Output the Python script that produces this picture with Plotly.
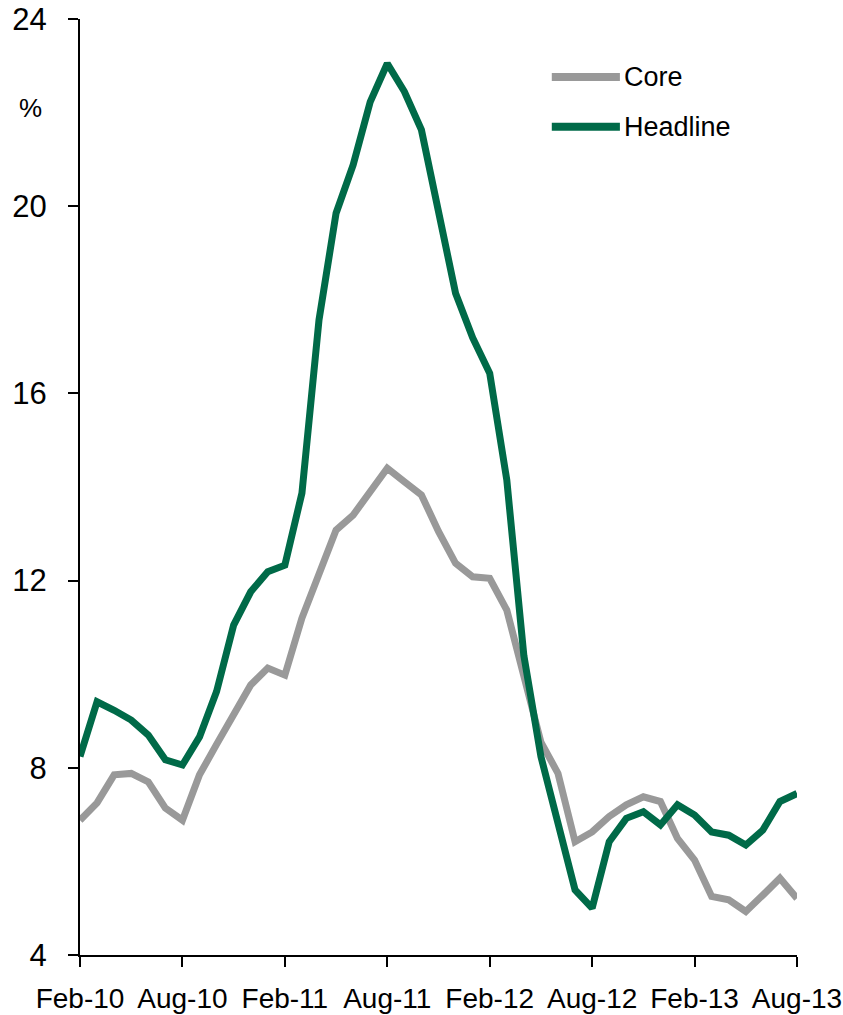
import plotly.graph_objects as go

# Monthly observations, Feb-2010 .. Aug-2013
months = [f"{m}-{y}" for y, ms in [
    ("10", ["Feb", "Mar", "Apr", "May", "Jun", "Jul", "Aug", "Sep", "Oct", "Nov", "Dec"]),
    ("11", ["Jan", "Feb", "Mar", "Apr", "May", "Jun", "Jul", "Aug", "Sep", "Oct", "Nov", "Dec"]),
    ("12", ["Jan", "Feb", "Mar", "Apr", "May", "Jun", "Jul", "Aug", "Sep", "Oct", "Nov", "Dec"]),
    ("13", ["Jan", "Feb", "Mar", "Apr", "May", "Jun", "Jul", "Aug"]),
] for m in ms]

core = [6.88, 7.25, 7.85, 7.88, 7.70, 7.14, 6.88, 7.85, 8.50, 9.11,
        9.77, 10.13, 9.98, 11.20, 12.19, 13.08, 13.40, 13.87, 14.40, 14.11,
        13.83, 13.05, 12.37, 12.08, 12.05, 11.37, 9.90, 8.55, 7.88, 6.42,
        6.63, 6.96, 7.21, 7.38, 7.28, 6.49, 6.03, 5.25, 5.18, 4.93,
        5.28, 5.64, 5.21]

headline = [8.24, 9.41, 9.23, 9.02, 8.70, 8.17, 8.06, 8.66, 9.63, 11.05,
            11.76, 12.19, 12.33, 13.87, 17.57, 19.85, 20.88, 22.23, 23.05, 22.45,
            21.63, 19.80, 18.14, 17.19, 16.43, 14.15, 10.40, 8.24, 6.80, 5.39,
            5.00, 6.42, 6.92, 7.06, 6.78, 7.21, 6.99, 6.63, 6.56, 6.35,
            6.67, 7.28, 7.45]

x_ticks = ["Feb-10", "Aug-10", "Feb-11", "Aug-11", "Feb-12", "Aug-12", "Feb-13", "Aug-13"]
y_ticks = [4, 8, 12, 16, 20, 24]

GREY = "#999999"
GREEN = "#006A48"
FONT = "Liberation Sans, Arial, sans-serif"

fig = go.Figure()
fig.add_trace(go.Scatter(x=months, y=core, mode="lines", name="Core",
                         line=dict(color=GREY, width=7)))
fig.add_trace(go.Scatter(x=months, y=headline, mode="lines", name="Headline",
                         line=dict(color=GREEN, width=7)))

fig.update_layout(
    width=843, height=1015,
    margin=dict(l=80, r=46, t=19, b=60),
    paper_bgcolor="white", plot_bgcolor="white",
    showlegend=False,
    font=dict(family=FONT, color="black"),
)
fig.update_xaxes(
    type="category", range=[0, len(months) - 1], automargin=False,
    tickmode="array", tickvals=x_ticks, ticktext=x_ticks,
    showgrid=False, zeroline=False,
    showline=True, linecolor="black", linewidth=2,
    ticks="outside", ticklen=10, tickwidth=2, tickcolor="black",
    tickfont=dict(size=28, family=FONT), ticklabelstandoff=7,
)
fig.update_yaxes(
    range=[4, 24], tickmode="array", tickvals=y_ticks, automargin=False,
    showgrid=False, zeroline=False,
    showline=True, linecolor="black", linewidth=2,
    ticks="outside", ticklen=10, tickwidth=2, tickcolor="black",
    tickfont=dict(size=31, family=FONT), ticklabelstandoff=15,
)

# Unit label
fig.add_annotation(xref="paper", yref="paper", x=-0.05, y=0.905,
                   text="%", showarrow=False, xanchor="right", yanchor="middle",
                   font=dict(size=26, family=FONT, color="black"))

# Legend drawn as line swatches with text
legend_items = [("Core", GREY, 0.938), ("Headline", GREEN, 0.885)]
for name, color, yy in legend_items:
    fig.add_shape(type="line", xref="paper", yref="paper",
                  x0=0.658, x1=0.753, y0=yy, y1=yy,
                  line=dict(color=color, width=8))
    fig.add_annotation(xref="paper", yref="paper", x=0.756, y=yy,
                       text=name, showarrow=False, xanchor="left", yanchor="middle",
                       font=dict(size=27, family=FONT, color="black"))

fig.write_html("out.html")
